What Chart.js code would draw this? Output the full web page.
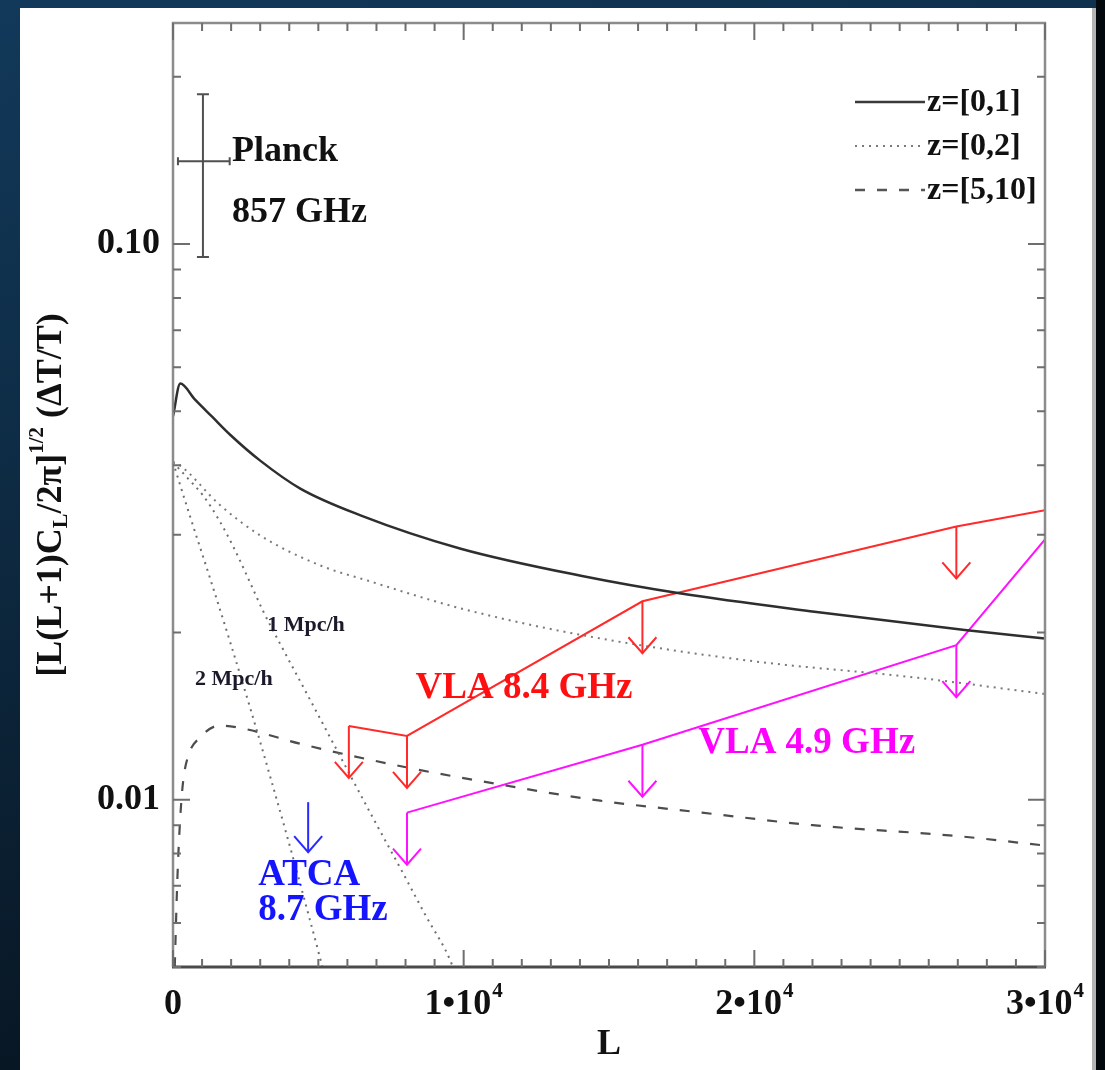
<!DOCTYPE html>
<html>
<head>
<meta charset="utf-8">
<title>Angular power spectrum limits</title>
<script src="https://cdn.jsdelivr.net/npm/chart.js@4.4.1/dist/chart.umd.min.js"></script>
<style>
  html, body { margin: 0; padding: 0; }
  body {
    width: 1105px; height: 1070px; overflow: hidden; position: relative;
    background: linear-gradient(165deg, #12395a 0%, #0e2d47 30%, #0a1d2e 65%, #050d14 100%);
  }
  #panel {
    position: absolute; left: 20px; top: 8px; width: 1072px; height: 1062px;
    background: #ffffff; border-right: 4px solid #b4b4b4;
  }
  #edge { position: absolute; left: 1096px; top: 0; width: 9px; height: 1070px; background: #03080c; }
  canvas { position: absolute; left: 0; top: 0; }
</style>
</head>
<body>
<div id="panel"></div>
<div id="edge"></div>
<canvas id="c" width="1105" height="1070"></canvas>
<script>
// ---- model curves: multipole L vs [L(L+1)C_L/2pi]^(1/2) dT/T ----
const solidL = [0, 250, 759, 1345, 1966, 3000, 4379, 6450, 9900, 14030, 17480, 22070, 27240, 30000];
const solidV = [0.049, 0.0561, 0.05248, 0.04891, 0.04539, 0.04077, 0.03631, 0.0325, 0.0283, 0.0253, 0.0235, 0.0218, 0.0202, 0.0195];

const z02L = [0, 140, 1620, 3000, 5070, 6690, 9900, 14030, 19790, 25520, 30000];
const z02V = [0.0405, 0.0403, 0.0339, 0.0299, 0.0264, 0.0248, 0.0221, 0.0198, 0.0178, 0.0166, 0.0155];

const mpc1L = [0, 517, 1034, 1552, 2069, 2586, 3103, 3690, 4483, 5759, 6897, 7828, 8690, 9552, 9620];
const mpc1V = [0.0405, 0.03785, 0.03528, 0.03208, 0.02858, 0.02503, 0.02184, 0.01906, 0.01595, 0.01195, 0.00924, 0.00752, 0.00619, 0.00512, 0.0050];

const mpc2L = [0, 586, 1276, 1966, 2655, 3345, 4034, 4724, 5034, 5138];
const mpc2V = [0.0405, 0.03236, 0.02503, 0.01922, 0.01463, 0.0110, 0.0082, 0.00604, 0.00525, 0.0050];

const z510L = [60, 150, 250, 350, 550, 900, 1600, 2500, 4400, 7800, 11300, 14700, 18200, 22000, 27000, 30000];
const z510V = [0.0050, 0.0072, 0.0093, 0.0108, 0.0121, 0.0129, 0.0136, 0.0134, 0.0126, 0.0115, 0.01064, 0.00996, 0.00948, 0.0090, 0.0086, 0.00827];

// ---- observational upper limits ----
const vla84L = [6050, 8050, 16150, 26950, 30000];
const vla84V = [0.01358, 0.01303, 0.02276, 0.03104, 0.0332];
const vla84Limits = [0, 1, 2, 3];

const vla49L = [8050, 16150, 26950, 30000];
const vla49V = [0.00948, 0.01256, 0.01898, 0.0294];
const vla49Limits = [0, 1, 2];

const atcaL = [4650];
const atcaV = [0.0099];

// Planck 857 GHz point with error bars
const planckL = [1030];
const planckV = [0.141];
const planckLRange = [170, 1950];
const planckVRange = [0.0948, 0.186];

// ---- axes ----
const xMajorTicks = [0, 10000, 20000, 30000];
const xTickLabels = [['0', ''], ['1\u202210', '4'], ['2\u202210', '4'], ['3\u202210', '4']];
const yMajorTicks = [0.01, 0.1];
const yTickLabels = ['0.01', '0.10'];

const SERIF = '"Liberation Serif", "Times New Roman", serif';
const font = (px) => 'bold ' + px + 'px ' + SERIF;
const pts = (xs, ys) => xs.map((x, i) => ({ x: x, y: ys[i] }));

const curveStyle = { pointRadius: 0, fill: false, cubicInterpolationMode: 'monotone' };

// text labels anchored in data space (left edge, vertical centre)
const textLabels = [
  { text: 'VLA 8.4 GHz', L: 8345, v: 0.01589, size: 37, color: '#ff1010' },
  { text: 'VLA 4.9 GHz', L: 18070, v: 0.01265, size: 37, color: '#ff00ff' },
  { text: 'ATCA', L: 2930, v: 0.0073, size: 37, color: '#1414ff' },
  { text: '8.7 GHz', L: 2930, v: 0.00632, size: 37, color: '#1414ff' },
  { text: '1 Mpc/h', L: 3240, v: 0.0206, size: 22, color: '#1a1a2a' },
  { text: '2 Mpc/h', L: 760, v: 0.0165, size: 22, color: '#1a1a2a' },
  { text: 'Planck', L: 2030, v: 0.1469, size: 36, color: '#111111' },
  { text: '857 GHz', L: 2030, v: 0.1141, size: 36, color: '#111111' }
];

const legendItems = [
  { text: 'z=[0,1]', color: '#3a3a3a', dash: [], width: 2.5 },
  { text: 'z=[0,2]', color: '#7a7a7a', dash: [2, 5], width: 2 },
  { text: 'z=[5,10]', color: '#555555', dash: [10, 12], width: 2.5 }
];

function drawArrow(c, x, y, len, color) {
  c.save();
  c.strokeStyle = color;
  c.lineWidth = 2;
  c.setLineDash([]);
  c.beginPath();
  c.moveTo(x, y);
  c.lineTo(x, y + len);
  c.stroke();
  c.beginPath();
  c.moveTo(x - 14, y + len - 16);
  c.lineTo(x, y + len);
  c.lineTo(x + 14, y + len - 16);
  c.stroke();
  c.restore();
}

const decorations = {
  id: 'decorations',
  afterDatasetsDraw(chart) {
    const c = chart.ctx;
    const xs = chart.scales.x, ys = chart.scales.y;
    const a = chart.chartArea;
    c.save();

    // frame
    c.setLineDash([]);
    c.lineCap = 'butt';
    c.strokeStyle = '#8c8c8c';
    c.lineWidth = 2.5;
    c.beginPath();
    c.moveTo(a.left, a.bottom);
    c.lineTo(a.left, a.top);
    c.lineTo(a.right, a.top);
    c.lineTo(a.right, a.bottom);
    c.stroke();
    c.strokeStyle = '#4a4a4a';
    c.lineWidth = 3;
    c.beginPath();
    c.moveTo(a.left - 1, a.bottom);
    c.lineTo(a.right + 1, a.bottom);
    c.stroke();

    // x ticks (inward, top and bottom)
    c.strokeStyle = '#6e6e6e';
    c.lineWidth = 2;
    for (let L = xs.min; L <= xs.max + 1; L += 1000) {
      const px = xs.getPixelForValue(L);
      const len = xMajorTicks.includes(L) ? 17 : 8;
      c.beginPath();
      c.moveTo(px, a.bottom); c.lineTo(px, a.bottom - len);
      c.moveTo(px, a.top); c.lineTo(px, a.top + len);
      c.stroke();
    }
    // y ticks (inward, left and right)
    for (let d = -3; d <= 0; d++) {
      for (let m = 1; m <= 9; m++) {
        const v = m * Math.pow(10, d);
        if (v < ys.min * 0.999 || v > ys.max * 1.001) continue;
        const py = ys.getPixelForValue(v);
        const len = m === 1 ? 17 : 8;
        c.beginPath();
        c.moveTo(a.left, py); c.lineTo(a.left + len, py);
        c.moveTo(a.right, py); c.lineTo(a.right - len, py);
        c.stroke();
      }
    }

    // tick labels
    c.fillStyle = '#111111';
    c.textBaseline = 'middle';
    c.textAlign = 'right';
    c.font = font(36);
    yMajorTicks.forEach((v, i) => {
      c.fillText(yTickLabels[i], a.left - 13, ys.getPixelForValue(v));
    });
    c.textAlign = 'left';
    xMajorTicks.forEach((L, i) => {
      const [base, sup] = xTickLabels[i];
      c.font = font(36);
      const wb = c.measureText(base).width;
      c.font = font(21);
      const ws = sup ? c.measureText(sup).width + 1 : 0;
      const x0 = xs.getPixelForValue(L) - (wb + ws) / 2;
      const yc = a.bottom + 38;
      c.font = font(36);
      c.fillText(base, x0, yc);
      if (sup) {
        c.font = font(21);
        c.fillText(sup, x0 + wb + 1, yc - 13);
      }
    });

    // axis titles
    c.font = font(36);
    c.textAlign = 'center';
    c.fillText('L', (a.left + a.right) / 2, a.bottom + 78);

    const parts = [
      { t: '[L(L+1)C', s: 36, dy: 0 },
      { t: 'L', s: 22, dy: 9 },
      { t: '/2\u03c0]', s: 36, dy: 0 },
      { t: '1/2', s: 21, dy: -14 },
      { t: ' (\u0394T/T)', s: 36, dy: 0 }
    ];
    let total = 0;
    parts.forEach(p => { c.font = font(p.s); p.w = c.measureText(p.t).width; total += p.w; });
    c.save();
    c.translate(52, (a.top + a.bottom) / 2);
    c.rotate(-Math.PI / 2);
    c.textAlign = 'left';
    let tx = -total / 2;
    parts.forEach(p => { c.font = font(p.s); c.fillText(p.t, tx, p.dy); tx += p.w; });
    c.restore();

    // upper-limit arrows
    const arrowLen = 52;
    vla84Limits.forEach(i => drawArrow(c, xs.getPixelForValue(vla84L[i]), ys.getPixelForValue(vla84V[i]), arrowLen, '#ff2a2a'));
    vla49Limits.forEach(i => drawArrow(c, xs.getPixelForValue(vla49L[i]), ys.getPixelForValue(vla49V[i]), arrowLen, '#ff10ff'));
    atcaL.forEach((L, i) => drawArrow(c, xs.getPixelForValue(L), ys.getPixelForValue(atcaV[i]), 50, '#2a2aff'));

    // Planck error bar
    c.strokeStyle = '#505050';
    c.lineWidth = 2;
    const pcx = xs.getPixelForValue(planckL[0]);
    const pcy = ys.getPixelForValue(planckV[0]);
    const pyTop = ys.getPixelForValue(planckVRange[1]);
    const pyBot = ys.getPixelForValue(planckVRange[0]);
    const pxL = xs.getPixelForValue(planckLRange[0]);
    const pxR = xs.getPixelForValue(planckLRange[1]);
    c.beginPath();
    c.moveTo(pcx, pyTop); c.lineTo(pcx, pyBot);
    c.moveTo(pcx - 6, pyTop); c.lineTo(pcx + 6, pyTop);
    c.moveTo(pcx - 6, pyBot); c.lineTo(pcx + 6, pyBot);
    c.moveTo(pxL, pcy); c.lineTo(pxR, pcy);
    c.moveTo(pxL, pcy - 4); c.lineTo(pxL, pcy + 4);
    c.moveTo(pxR, pcy - 4); c.lineTo(pxR, pcy + 4);
    c.stroke();

    // text labels
    c.textAlign = 'left';
    c.textBaseline = 'middle';
    textLabels.forEach(t => {
      c.font = font(t.size);
      c.fillStyle = t.color;
      c.fillText(t.text, xs.getPixelForValue(t.L), ys.getPixelForValue(t.v));
    });

    // legend
    legendItems.forEach((it, i) => {
      const y = a.top + 79 + i * 44;
      c.strokeStyle = it.color;
      c.lineWidth = it.width;
      c.setLineDash(it.dash);
      c.beginPath();
      c.moveTo(a.right - 190, y);
      c.lineTo(a.right - 120, y);
      c.stroke();
      c.setLineDash([]);
      c.font = font(32);
      c.fillStyle = '#111111';
      c.fillText(it.text, a.right - 118, y + 1);
    });

    c.restore();
  }
};

new Chart(document.getElementById('c'), {
  type: 'line',
  data: {
    datasets: [
      Object.assign({ label: 'z=[0,1]', data: pts(solidL, solidV), borderColor: '#2e2e2e', borderWidth: 2.5 }, curveStyle),
      Object.assign({ label: 'z=[0,2]', data: pts(z02L, z02V), borderColor: '#7a7a7a', borderWidth: 2, borderDash: [2, 5] }, curveStyle),
      Object.assign({ label: '1 Mpc/h', data: pts(mpc1L, mpc1V), borderColor: '#6e6e6e', borderWidth: 2, borderDash: [2, 5] }, curveStyle),
      Object.assign({ label: '2 Mpc/h', data: pts(mpc2L, mpc2V), borderColor: '#6e6e6e', borderWidth: 2, borderDash: [2, 5] }, curveStyle),
      Object.assign({ label: 'z=[5,10]', data: pts(z510L, z510V), borderColor: '#4d4d4d', borderWidth: 2.2, borderDash: [10, 12] }, curveStyle),
      { label: 'VLA 8.4 GHz', data: pts(vla84L, vla84V), borderColor: '#ff2a2a', borderWidth: 2, pointRadius: 0, tension: 0, fill: false },
      { label: 'VLA 4.9 GHz', data: pts(vla49L, vla49V), borderColor: '#ff10ff', borderWidth: 2, pointRadius: 0, tension: 0, fill: false }
    ]
  },
  options: {
    responsive: false,
    devicePixelRatio: 1,
    animation: false,
    layout: { padding: { left: 0, right: 60, top: 23, bottom: 0 } },
    scales: {
      x: {
        type: 'linear', min: 0, max: 30000,
        ticks: { display: false }, grid: { display: false }, border: { display: false },
        afterFit(s) { s.height = 103; }
      },
      y: {
        type: 'logarithmic', min: 0.005, max: 0.25,
        ticks: { display: false }, grid: { display: false }, border: { display: false },
        afterFit(s) { s.width = 173; }
      }
    },
    plugins: { legend: { display: false }, tooltip: { enabled: false } }
  },
  plugins: [decorations]
});
</script>
</body>
</html>
